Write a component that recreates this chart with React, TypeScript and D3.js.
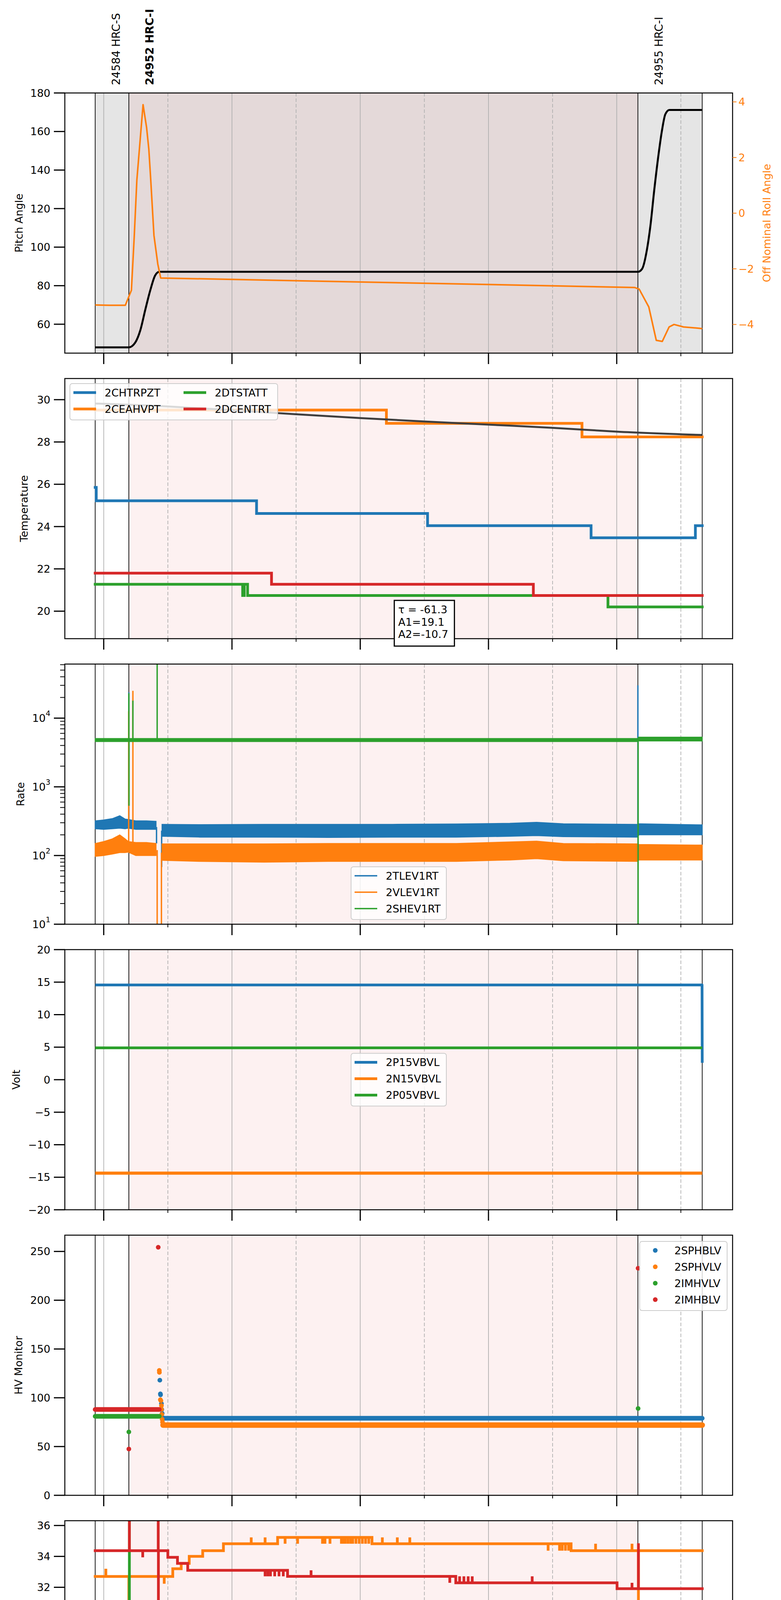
import * as d3 from "d3";

type Pt = [string, number];
type Band = [string, number, number];
type Spike = [string, number, number];
type Run = [string, string, number];

const FONT = "DejaVu Sans";
const BLUE = "#1f77b4";
const ORANGE = "#ff7f0e";
const GREEN = "#2ca02c";
const RED = "#d62728";

// layout
const L = 166;
const R = 1876;
const TOP0 = 238;
const STEP = 731;
const PH = 666;
const panelTop = (i: number) => TOP0 + i * STEP;

// time strings: hours >= 12 are on 2021-02-13, the rest on 2021-02-14
function t(s: string): Date {
  const [h, m, sec] = s.split(":").map(Number);
  return new Date(Date.UTC(2021, 1, h >= 12 ? 13 : 14, h, m, sec || 0));
}

const x = d3.scaleUtc().domain([t("19:23:36"), t("05:48:24")]).range([L, R]);
const hourTicks = x.ticks(d3.utcHour.every(1)!);
const fmtHour = d3.utcFormat("%Hh");

// ---------- observations ----------
const obsNames = ["24584 HRC-S", "24952 HRC-I", "24955 HRC-I"];
const obsStarts = ["19:52", "20:23:30", "04:19:48"];
const obsEnd = "05:20";
const currentObs = 1;

// ---------- panel 1: pitch / roll ----------
const pitchTicks = [60, 80, 100, 120, 140, 160, 180];
const rollTicks = [-4, -2, 0, 2, 4];
const pitch: Pt[] = [
  ["19:52", 48], ["20:23:30", 48], ["20:29:30", 50.5], ["20:34:12", 56.8], ["20:39", 67.8],
  ["20:43:36", 77.7], ["20:48:06", 85.3], ["20:52", 87.2], ["04:19:48", 87.2], ["04:23:42", 88.7],
  ["04:28:12", 98.5], ["04:31:30", 111], ["04:35:06", 129.6], ["04:39:06", 148], ["04:42:18", 160.4],
  ["04:45:30", 169], ["04:49:18", 171.2], ["05:20", 171.2],
];
const roll: Pt[] = [
  ["19:52", -3.3], ["20:05", -3.31], ["20:20:12", -3.31], ["20:25:54", -2.77], ["20:28:36", -0.8],
  ["20:31", 1.19], ["20:36:48", 3.9], ["20:40:06", 3.08], ["20:42:12", 2.3], ["20:44", 1.19],
  ["20:47", -0.8], ["20:50:36", -1.83], ["20:53:18", -2.33], ["04:16:36", -2.67], ["04:21", -2.73],
  ["04:30", -3.37], ["04:37", -4.57], ["04:42:36", -4.61], ["04:49", -4.09], ["04:53:36", -4.0],
  ["05:02:30", -4.09], ["05:15:36", -4.13], ["05:20", -4.15],
];

// ---------- panel 2: temperature ----------
const tempTicks = [20, 22, 24, 26, 28, 30];
const chtrpzt: Pt[] = [["19:52", 25.85], ["19:53", 25.22], ["22:23", 24.62], ["01:03", 24.04], ["03:36", 23.47], ["05:13:36", 24.04], ["05:20", 24.04]];
const ceahvpt: Pt[] = [["19:52", 29.51], ["00:24:30", 28.88], ["03:27:30", 28.24], ["05:20", 28.24]];
const dtstatt: Pt[] = [["19:52", 21.27], ["22:10", 20.74], ["22:11:30", 21.27], ["22:14:36", 20.74], ["03:51:48", 20.2], ["05:20", 20.2]];
const dcentrt: Pt[] = [["19:52", 21.8], ["22:37", 21.27], ["02:42", 20.74], ["05:20", 20.74]];
const tempFit: Pt[] = [
  ["19:52", 29.82], ["21:00", 29.68], ["22:00", 29.5], ["23:00", 29.31], ["00:00", 29.13],
  ["01:00", 28.97], ["02:00", 28.82], ["03:00", 28.67], ["04:00", 28.49], ["05:20", 28.33],
];
const fitText = ["τ = -61.3", "A1=19.1", "A2=-10.7"];

// ---------- panel 3: rates ----------
const rateTicks = [10, 100, 1000, 10000];
const tlevBands: Band[][] = [
  [["19:52", 245, 320], ["20:00", 240, 330], ["20:08", 245, 345], ["20:15", 250, 380], ["20:20", 245, 340],
   ["20:23", 250, 335], ["20:30", 240, 320], ["20:40", 240, 320], ["20:49", 240, 315]],
  [["20:54:30", 190, 285], ["21:30", 185, 282], ["22:30", 185, 285], ["23:30", 183, 285], ["00:30", 185, 285],
   ["01:30", 185, 288], ["02:20", 190, 295], ["02:45", 195, 305], ["03:10", 188, 290], ["04:19", 185, 285],
   ["04:21", 200, 290], ["05:20", 200, 280]],
];
const vlevBands: Band[][] = [
  [["19:52", 97, 150], ["20:00", 100, 160], ["20:08", 105, 175], ["20:15", 110, 200], ["20:20", 110, 175],
   ["20:23", 112, 160], ["20:30", 100, 155], ["20:40", 100, 155], ["20:49", 100, 150]],
  [["20:54:30", 85, 148], ["21:30", 82, 148], ["22:30", 80, 148], ["23:30", 82, 150], ["00:30", 82, 150],
   ["01:30", 82, 150], ["02:20", 86, 158], ["02:45", 90, 162], ["03:10", 84, 150], ["04:19", 82, 148],
   ["04:21", 86, 145], ["05:20", 86, 142]],
];
const shevBands: Band[][] = [
  [["19:52", 4550, 5050], ["04:19:48", 4550, 5050]],
  [["04:20:12", 4650, 5300], ["05:20", 4650, 5300]],
];
const tlevSpikes: Spike[] = [["20:23:30", 300, 23700], ["20:49:24", 260, 150], ["20:54:12", 230, 68], ["04:19:48", 230, 30000]];
const vlevSpikes: Spike[] = [["20:23:20", 130, 12600], ["20:27:18", 140, 25000], ["20:50", 120, 1], ["20:54", 110, 1]];
const shevSpikes: Spike[] = [["20:23:30", 4800, 23000], ["20:23:40", 4800, 530], ["20:27:18", 4800, 18000], ["20:50", 4800, 1e6], ["04:20", 4800, 1]];

// ---------- panel 4: volt ----------
const voltTicks = [-20, -15, -10, -5, 0, 5, 10, 15, 20];
const p15vbvl: Pt[] = [["19:52", 14.57], ["05:19:50", 14.57], ["05:20", 2.6]];
const n15vbvl: Pt[] = [["19:52", -14.37], ["05:20", -14.37]];
const p05vbvl: Pt[] = [["19:52", 4.9], ["05:20", 4.9]];

// ---------- panel 5: HV monitor ----------
const hvTicks = [0, 50, 100, 150, 200, 250];
const sphblvRuns: Run[] = [["20:55", "05:20", 79]];
const sphvlvRuns: Run[] = [["20:55:30", "05:20", 72]];
const imhvlvRuns: Run[] = [["19:52", "20:52", 81]];
const imhblvRuns: Run[] = [["19:52", "20:52", 88]];
const sphblvPts: Pt[] = [["20:52:30", 118], ["20:53", 104], ["20:53:10", 103], ["20:54", 94], ["20:54:20", 88], ["20:54:40", 84], ["20:55", 80]];
const sphvlvPts: Pt[] = [["20:52", 128], ["20:52:05", 126], ["20:53", 98], ["20:53:30", 97], ["20:54", 92], ["20:54:05", 88], ["20:54:20", 83], ["20:54:40", 78], ["20:55", 75]];
const imhvlvPts: Pt[] = [["20:23:30", 65], ["04:20", 89]];
const imhblvPts: Pt[] = [["20:23:30", 47.5], ["20:51", 254.3], ["04:20", 232.8]];

// ---------- panel 6: detector temp ----------
const detTicks = [20, 22, 24, 26, 28, 30, 32, 34, 36];
const spinatmSteps: Pt[] = [["19:52", 20.97], ["04:35:18", 20.3], ["05:20", 20.3]];
const sphvatmSteps: Pt[] = [
  ["19:52", 32.7], ["21:04:36", 33.2], ["21:12:30", 33.55], ["21:20", 34.0], ["21:32:36", 34.37],
  ["21:52", 34.82], ["22:42:42", 35.23], ["00:11", 34.82], ["03:17:18", 34.37], ["05:20", 34.37],
];
const sphvatmSpikes: Pt[] = [
  ["20:02", 33.2], ["20:23:30", 10], ["20:56:36", 32.23], ["22:18", 35.23], ["22:31", 35.23],
  ["22:49:42", 34.82], ["23:01:24", 34.82], ["23:24:42", 34.82], ["23:27", 34.82], ["23:31:42", 34.82],
  ["23:42:24", 34.82], ["23:44", 34.82], ["23:46", 34.82], ["23:48:30", 34.82], ["23:51", 34.82],
  ["23:53", 34.82], ["23:56", 34.82], ["23:59", 34.82], ["00:02", 34.82], ["00:05", 34.82],
  ["00:08", 34.82], ["00:20:42", 35.23], ["00:34:42", 35.23], ["00:46:24", 35.23], ["02:55:48", 34.37],
  ["03:06:30", 34.37], ["03:09", 34.37], ["03:12", 34.37], ["03:15", 34.37], ["03:40:12", 34.82],
  ["04:14:18", 34.82], ["04:20:18", 10],
];
const iminatmSteps: Pt[] = [["19:52", 21.7], ["22:36", 20.97], ["05:02:24", 20.3], ["05:20", 20.3]];
const iminatmSpikes: Pt[] = [
  ["20:24", 40], ["20:24", 10], ["22:38", 21.7], ["22:42", 21.7], ["22:46", 21.7], ["22:50", 21.7],
  ["22:53:24", 21.7], ["23:28", 21.7], ["04:20:18", 10],
];
const imhvatmSteps: Pt[] = [
  ["19:52", 34.37], ["21:00", 33.94], ["21:09", 33.55], ["21:18:36", 33.1], ["22:52", 32.71],
  ["01:29:24", 32.29], ["04:00:18", 31.91], ["05:20", 31.91],
];
const imhvatmSpikes: Pt[] = [
  ["20:24", 40], ["20:36:30", 33.94], ["20:51", 40], ["20:51:10", 10], ["22:31", 32.71], ["22:33:30", 32.71],
  ["22:36", 32.71], ["22:40", 32.71], ["22:44", 32.71], ["22:48", 32.71], ["23:14", 33.1], ["01:23:48", 32.29],
  ["01:33", 32.71], ["01:37", 32.71], ["01:41", 32.71], ["01:44:48", 32.71], ["02:40:54", 32.71],
  ["04:14:18", 32.29], ["04:20:18", 34.85],
];

// ---------- panel 7: FEA temp ----------
const feaTicks = [16, 18, 20, 22, 24];
const fhtrmztSteps: Pt[] = [
  ["19:52", 22.35], ["01:19", 21.81], ["01:20", 22.35], ["01:22", 21.81], ["01:24", 22.35], ["01:26", 21.81],
  ["01:29", 22.35], ["01:31", 21.81], ["01:32", 22.35], ["01:33:30", 21.81], ["05:16:48", 22.35], ["05:20", 22.35],
];
const fradpytSteps: Pt[] = [["19:52", 17.15], ["03:38:24", 16.67], ["04:34", 17.15], ["05:00", 17.63], ["05:20", 17.63]];
const fradpytSpikes: Pt[] = [["03:32:18", 16.67]];
const fepratmSteps: Pt[] = [
  ["19:52", 24.64], ["19:53:30", 23.87], ["19:55", 24.64], ["19:57", 23.87], ["19:58", 24.64], ["20:00", 23.87],
  ["20:01", 24.64], ["20:03", 23.87], ["20:04", 24.64], ["20:06", 23.87], ["20:07:30", 24.64], ["20:09", 23.87],
  ["20:10", 24.64], ["20:12", 23.87], ["20:13", 24.64], ["20:14:36", 23.87], ["05:20", 23.87],
];
const fepratmSpikes: Pt[] = [["20:24", 30], ["20:51", 22.38], ["04:20:18", 30]];
const fe00atmSteps: Pt[] = [
  ["19:52", 22.35], ["23:17:48", 22.02], ["23:19:30", 22.35], ["23:21", 22.02], ["23:23", 22.35], ["23:25", 22.02],
  ["23:27", 22.35], ["23:29", 22.02], ["23:31", 22.35], ["23:33", 22.02], ["23:35", 22.35], ["23:37:24", 22.02],
  ["04:09:36", 21.7], ["04:11", 22.02], ["04:12:30", 21.7], ["04:14", 22.02], ["04:15", 21.7], ["04:17", 22.02],
  ["04:18", 21.7], ["04:19", 22.02], ["04:21", 21.7], ["04:44:42", 22.02], ["05:20", 22.02],
];
const fe00atmSpikes: Pt[] = [
  ["20:01", 22.7], ["20:23:30", 10], ["20:30:30", 22.02], ["20:38", 22.02], ["20:51", 10], ["21:04:36", 22.02],
  ["21:18:36", 22.7], ["21:20", 21.68], ["21:29:18", 22.02], ["21:47:30", 23.01], ["22:10", 22.02],
  ["22:21", 21.68], ["22:34:42", 22.02], ["22:41:48", 22.7], ["22:46", 21.68], ["22:53:24", 23.01],
  ["22:54", 22.02], ["23:06", 22.02], ["23:13", 22.02], ["23:17:48", 22.7], ["23:18", 21.36], ["23:24:42", 21.68],
  ["00:09", 22.35], ["00:31:30", 23.01], ["00:47:24", 21.6], ["00:59:30", 21.06], ["01:13:30", 22.7],
  ["01:26", 22.35], ["01:39", 22.35], ["02:18:30", 23.01], ["02:41:18", 21.36], ["02:48", 21.68],
  ["02:52:30", 21.36], ["03:00", 21.36], ["03:18:42", 21.68], ["03:21:30", 23.01], ["03:55:36", 21.68],
  ["04:14:18", 22.02], ["04:20:18", 10], ["04:34:48", 22.35], ["04:47", 21.68],
];

// ---------- scales ----------
const yRange = (i: number) => [panelTop(i) + PH, panelTop(i)];
const yPitch = d3.scaleLinear().domain([45, 180]).range(yRange(0));
const yRoll = d3.scaleLinear().domain([-5.03, 4.32]).range(yRange(0));
const yTemp = d3.scaleLinear().domain([18.7, 31.0]).range(yRange(1));
const yRate = d3.scaleLog().domain([10, 61250]).range(yRange(2));
const yVolt = d3.scaleLinear().domain([-20, 20]).range(yRange(3));
const yHv = d3.scaleLinear().domain([0, 266.7]).range(yRange(4));
const yDet = d3.scaleLinear().domain([19.47, 36.31]).range(yRange(5));
const yFea = d3.scaleLinear().domain([15.66, 25.37]).range(yRange(6));

const minus = (v: number) => String(v).replace("-", "\u2212");
type YS = (v: number) => number;

function Background({ i }: { i: number }) {
  const top = panelTop(i);
  const edges = [...obsStarts, obsEnd].map(s => x(t(s)));
  return (
    <g>
      {obsNames.map((_, k) => {
        if (i > 0 && k !== currentObs) return null;
        const fill = i === 0 ? (k === currentObs ? "#e4d9d9" : "#e5e5e5") : "#fdf1f1";
        return <rect key={k} x={edges[k]} y={top} width={edges[k + 1] - edges[k]} height={PH} fill={fill} />;
      })}
      {hourTicks.map(d => {
        const major = d.getUTCHours() % 2 === 0;
        return (
          <line key={+d} x1={x(d)} x2={x(d)} y1={top} y2={top + PH} stroke="#b0b0b0" strokeWidth={1.8}
            strokeDasharray={major ? undefined : "9,5"} />
        );
      })}
      {edges.map((e, k) => (
        <line key={k} x1={e} x2={e} y1={top} y2={top + PH} stroke="#000" strokeWidth={1.8} />
      ))}
    </g>
  );
}

function Frame({ i, y, ticks, fmt, ylabel, labelX, minorTicks = [] }: {
  i: number; y: YS; ticks: number[]; fmt: (v: number) => any; ylabel: string; labelX: number; minorTicks?: number[];
}) {
  const top = panelTop(i);
  const bot = top + PH;
  const last = i === 6;
  return (
    <g>
      <rect x={L} y={top} width={R - L} height={PH} fill="none" stroke="#000" strokeWidth={2.5} />
      {ticks.map(v => (
        <g key={v}>
          <line x1={L - 28} x2={L} y1={y(v)} y2={y(v)} stroke="#000" strokeWidth={3} />
          <text x={L - 37} y={y(v)} textAnchor="end" dominantBaseline="central" fontSize={27}>{fmt(v)}</text>
        </g>
      ))}
      {minorTicks.map(v => (
        <line key={"m" + v} x1={L - 12} x2={L} y1={y(v)} y2={y(v)} stroke="#000" strokeWidth={2} />
      ))}
      {hourTicks.map(d => {
        const major = d.getUTCHours() % 2 === 0;
        const X = x(d);
        return (
          <g key={+d}>
            <line x1={X} x2={X} y1={bot} y2={bot + (major ? 28 : 8)} stroke="#000" strokeWidth={major ? 3 : 2} />
            {last && (
              <text x={X} y={major ? bot + 60 : bot + 23} textAnchor="middle" fontSize={major ? 27 : 19}>{fmtHour(d)}</text>
            )}
          </g>
        );
      })}
      <text transform={`translate(${labelX},${(top + bot) / 2}) rotate(-90)`} textAnchor="middle"
        dominantBaseline="central" fontSize={27}>{ylabel}</text>
    </g>
  );
}

function Clip({ i }: { i: number }) {
  return (
    <clipPath id={"clip" + i}>
      <rect x={L} y={panelTop(i)} width={R - L} height={PH} />
    </clipPath>
  );
}

function StepSeries({ steps, spikes = [], y, color, width }: { steps: Pt[]; spikes?: Pt[]; y: YS; color: string; width: number }) {
  const line = d3.line<Pt>().x(d => x(t(d[0]))).y(d => y(d[1])).curve(d3.curveStepAfter);
  const base = (tm: Date) => {
    let v = steps[0][1];
    for (const s of steps) if (t(s[0]) <= tm) v = s[1];
    return v;
  };
  return (
    <g>
      <path d={line(steps) || ""} fill="none" stroke={color} strokeWidth={width} strokeLinecap="square" />
      {spikes.map(([ts, v], k) => {
        const tm = t(ts);
        const X = x(tm);
        return <line key={k} x1={X} x2={X} y1={y(base(tm))} y2={y(v)} stroke={color} strokeWidth={width} />;
      })}
    </g>
  );
}

function LineSeries({ pts, y, color, width, curve = d3.curveLinear }: { pts: Pt[]; y: YS; color: string; width: number; curve?: d3.CurveFactory }) {
  const line = d3.line<Pt>().x(d => x(t(d[0]))).y(d => y(d[1])).curve(curve);
  return <path d={line(pts) || ""} fill="none" stroke={color} strokeWidth={width} strokeLinejoin="round" />;
}

function BandSeries({ bands, spikes, y, color }: { bands: Band[][]; spikes: Spike[]; y: YS; color: string }) {
  const area = d3.area<Band>().x(d => x(t(d[0]))).y0(d => y(d[1])).y1(d => y(d[2]));
  return (
    <g>
      {bands.map((b, k) => <path key={k} d={area(b) || ""} fill={color} stroke={color} strokeWidth={2} />)}
      {spikes.map(([ts, from, to], k) => {
        const X = x(t(ts));
        return <line key={"s" + k} x1={X} x2={X} y1={y(from)} y2={y(to)} stroke={color} strokeWidth={3.5} />;
      })}
    </g>
  );
}

function ScatterSeries({ runs, pts, y, color, band }: { runs: Run[]; pts: Pt[]; y: YS; color: string; band: number }) {
  return (
    <g>
      {runs.map(([a, b, v], k) => (
        <line key={k} x1={x(t(a))} x2={x(t(b))} y1={y(v)} y2={y(v)} stroke={color} strokeWidth={band} strokeLinecap="round" />
      ))}
      {pts.map(([ts, v], k) => <circle key={"p" + k} cx={x(t(ts))} cy={y(v)} r={6} fill={color} />)}
    </g>
  );
}

type Item = { label: string; color: string; width: number };
function Legend({ x0, y0, w, items, cols = 1, marker = false }: { x0: number; y0: number; w: number; items: Item[]; cols?: number; marker?: boolean }) {
  const rows = Math.ceil(items.length / cols);
  return (
    <g>
      <rect x={x0} y={y0} width={w} height={rows * 42 + 9} rx={6} fill="#fff" fillOpacity={0.8} stroke="#cccccc" strokeWidth={2} />
      {items.map((it, k) => {
        const c = Math.floor(k / rows);
        const r = k % rows;
        const bx = x0 + c * 282;
        const cy = y0 + 23 + r * 42;
        return (
          <g key={k}>
            {marker ? (
              <circle cx={bx + 40} cy={cy} r={6} fill={it.color} />
            ) : (
              <line x1={bx + 9} x2={bx + 67} y1={cy} y2={cy} stroke={it.color} strokeWidth={it.width} />
            )}
            <text x={bx + 89} y={cy} dominantBaseline="central" fontSize={27}>{it.label}</text>
          </g>
        );
      })}
    </g>
  );
}

const rateFmt = (v: number) => (
  <>
    10<tspan dy={-12} fontSize={19}>{Math.round(Math.log10(v))}</tspan>
  </>
);
const rateMinor = [1, 10, 100, 1000].flatMap(d => [2, 3, 4, 5, 6, 7, 8, 9].map(m => m * d * 10)).filter(v => v < 61250);

export default function App() {
  const cx = (L + R) / 2;
  const mid = (i: number) => panelTop(i) + PH / 2;
  const bot = (i: number) => panelTop(i) + PH;
  return (
    <div style={{ margin: "-8px 0 0 -8px", width: 2000, height: 5400, overflow: "hidden" }}>
      <svg width={2000} height={5400} viewBox="0 0 2000 5400" style={{ display: "block", background: "#fff" }}
        fontFamily={FONT}>
        <defs>{[0, 1, 2, 3, 4, 5, 6].map(i => <Clip key={i} i={i} />)}</defs>

        {/* observation labels */}
        {obsNames.map((n, k) => (
          <text key={n} transform={`translate(${x(t(obsStarts[k])) + 63},218) rotate(-90)`} fontSize={28}
            fontWeight={k === currentObs ? "bold" : "normal"}>{n}</text>
        ))}

        {/* panel 1 */}
        <Background i={0} />
        <g clipPath="url(#clip0)">
          <LineSeries pts={pitch} y={yPitch} color="#000" width={5} curve={d3.curveMonotoneX} />
          <LineSeries pts={roll} y={yRoll} color={ORANGE} width={4} />
        </g>
        <Frame i={0} y={yPitch} ticks={pitchTicks} fmt={minus} ylabel="Pitch Angle" labelX={48} />
        {rollTicks.map(v => (
          <g key={v}>
            <line x1={R} x2={R + 10} y1={yRoll(v)} y2={yRoll(v)} stroke={ORANGE} strokeWidth={2} />
            <text x={R + 15} y={yRoll(v)} dominantBaseline="central" fontSize={27} fill={ORANGE}>{minus(v)}</text>
          </g>
        ))}
        <text transform={`translate(1963,${mid(0)}) rotate(-90)`} textAnchor="middle" dominantBaseline="central"
          fontSize={27} fill={ORANGE}>Off Nominal Roll Angle</text>

        {/* panel 2 */}
        <Background i={1} />
        <g clipPath="url(#clip1)">
          <StepSeries steps={chtrpzt} y={yTemp} color={BLUE} width={7} />
          <StepSeries steps={ceahvpt} y={yTemp} color={ORANGE} width={7} />
          <StepSeries steps={dtstatt} y={yTemp} color={GREEN} width={7} />
          <StepSeries steps={dcentrt} y={yTemp} color={RED} width={7} />
          <LineSeries pts={tempFit} y={yTemp} color="#3f3f3f" width={5} curve={d3.curveMonotoneX} />
        </g>
        <Legend x0={L + 13} y0={panelTop(1) + 13} w={532} cols={2} items={[
          { label: "2CHTRPZT", color: BLUE, width: 7 }, { label: "2CEAHVPT", color: ORANGE, width: 7 },
          { label: "2DTSTATT", color: GREEN, width: 7 }, { label: "2DCENTRT", color: RED, width: 7 },
        ]} />
        <Frame i={1} y={yTemp} ticks={tempTicks} fmt={minus} ylabel="Temperature" labelX={61} />
        <g>
          <rect x={x(t("01:00")) - 77} y={bot(1) - 98} width={154} height={117} fill="#fff" stroke="#000" strokeWidth={3} />
          {fitText.map((s, k) => (
            <text key={s} x={x(t("01:00")) - 67} y={bot(1) - 65 + k * 31.5} fontSize={27}>{s}</text>
          ))}
        </g>

        {/* panel 3 */}
        <Background i={2} />
        <g clipPath="url(#clip2)">
          <BandSeries bands={tlevBands} spikes={tlevSpikes} y={yRate} color={BLUE} />
          <BandSeries bands={vlevBands} spikes={vlevSpikes} y={yRate} color={ORANGE} />
          <BandSeries bands={shevBands} spikes={shevSpikes} y={yRate} color={GREEN} />
        </g>
        <Legend x0={cx - 122} y0={bot(2) - 12 - 135} w={244} items={[
          { label: "2TLEV1RT", color: BLUE, width: 3.5 }, { label: "2VLEV1RT", color: ORANGE, width: 3.5 },
          { label: "2SHEV1RT", color: GREEN, width: 3.5 },
        ]} />
        <Frame i={2} y={yRate} ticks={rateTicks} fmt={rateFmt} ylabel="Rate" labelX={52} minorTicks={rateMinor} />

        {/* panel 4 */}
        <Background i={3} />
        <g clipPath="url(#clip3)">
          <LineSeries pts={p15vbvl} y={yVolt} color={BLUE} width={7} />
          <LineSeries pts={n15vbvl} y={yVolt} color={ORANGE} width={8} />
          <LineSeries pts={p05vbvl} y={yVolt} color={GREEN} width={7} />
        </g>
        <Legend x0={cx - 122} y0={mid(3) - 67.5} w={244} items={[
          { label: "2P15VBVL", color: BLUE, width: 7 }, { label: "2N15VBVL", color: ORANGE, width: 7 },
          { label: "2P05VBVL", color: GREEN, width: 7 },
        ]} />
        <Frame i={3} y={yVolt} ticks={voltTicks} fmt={minus} ylabel="Volt" labelX={41} />

        {/* panel 5 */}
        <Background i={4} />
        <g clipPath="url(#clip4)">
          <ScatterSeries runs={sphblvRuns} pts={sphblvPts} y={yHv} color={BLUE} band={12} />
          <ScatterSeries runs={sphvlvRuns} pts={sphvlvPts} y={yHv} color={ORANGE} band={14} />
          <ScatterSeries runs={imhvlvRuns} pts={imhvlvPts} y={yHv} color={GREEN} band={12} />
          <ScatterSeries runs={imhblvRuns} pts={imhblvPts} y={yHv} color={RED} band={12} />
        </g>
        <Legend x0={R - 14 - 224} y0={panelTop(4) + 16} w={224} marker items={[
          { label: "2SPHBLV", color: BLUE, width: 0 }, { label: "2SPHVLV", color: ORANGE, width: 0 },
          { label: "2IMHVLV", color: GREEN, width: 0 }, { label: "2IMHBLV", color: RED, width: 0 },
        ]} />
        <Frame i={4} y={yHv} ticks={hvTicks} fmt={minus} ylabel="HV Monitor" labelX={47} />

        {/* panel 6 */}
        <Background i={5} />
        <g clipPath="url(#clip5)">
          <StepSeries steps={spinatmSteps} y={yDet} color={BLUE} width={7} />
          <StepSeries steps={sphvatmSteps} spikes={sphvatmSpikes} y={yDet} color={ORANGE} width={7} />
          <StepSeries steps={iminatmSteps} spikes={iminatmSpikes} y={yDet} color={GREEN} width={7} />
          <StepSeries steps={imhvatmSteps} spikes={imhvatmSpikes} y={yDet} color={RED} width={7} />
        </g>
        <Legend x0={cx - 123.5} y0={mid(5) - 88.5} w={247} items={[
          { label: "2SPINATM", color: BLUE, width: 7 }, { label: "2SPHVATM", color: ORANGE, width: 7 },
          { label: "2IMINATM", color: GREEN, width: 7 }, { label: "2IMHVATM", color: RED, width: 7 },
        ]} />
        <Frame i={5} y={yDet} ticks={detTicks} fmt={minus} ylabel="Detector Temp" labelX={65} />

        {/* panel 7 */}
        <Background i={6} />
        <g clipPath="url(#clip6)">
          <StepSeries steps={fhtrmztSteps} y={yFea} color={BLUE} width={7} />
          <StepSeries steps={fradpytSteps} spikes={fradpytSpikes} y={yFea} color={ORANGE} width={7} />
          <StepSeries steps={fepratmSteps} spikes={fepratmSpikes} y={yFea} color={GREEN} width={7} />
          <StepSeries steps={fe00atmSteps} spikes={fe00atmSpikes} y={yFea} color={RED} width={7} />
        </g>
        <Legend x0={cx - 126.5} y0={mid(6) - 88.5} w={253} items={[
          { label: "2FHTRMZT", color: BLUE, width: 7 }, { label: "2FRADPYT", color: ORANGE, width: 7 },
          { label: "2FEPRATM", color: GREEN, width: 7 }, { label: "2FE00ATM", color: RED, width: 7 },
        ]} />
        <Frame i={6} y={yFea} ticks={feaTicks} fmt={minus} ylabel="FEA Temp" labelX={65} />

        <text x={cx} y={5393} textAnchor="middle" fontSize={33}>2021-02-14 (045)</text>
      </svg>
    </div>
  );
}
